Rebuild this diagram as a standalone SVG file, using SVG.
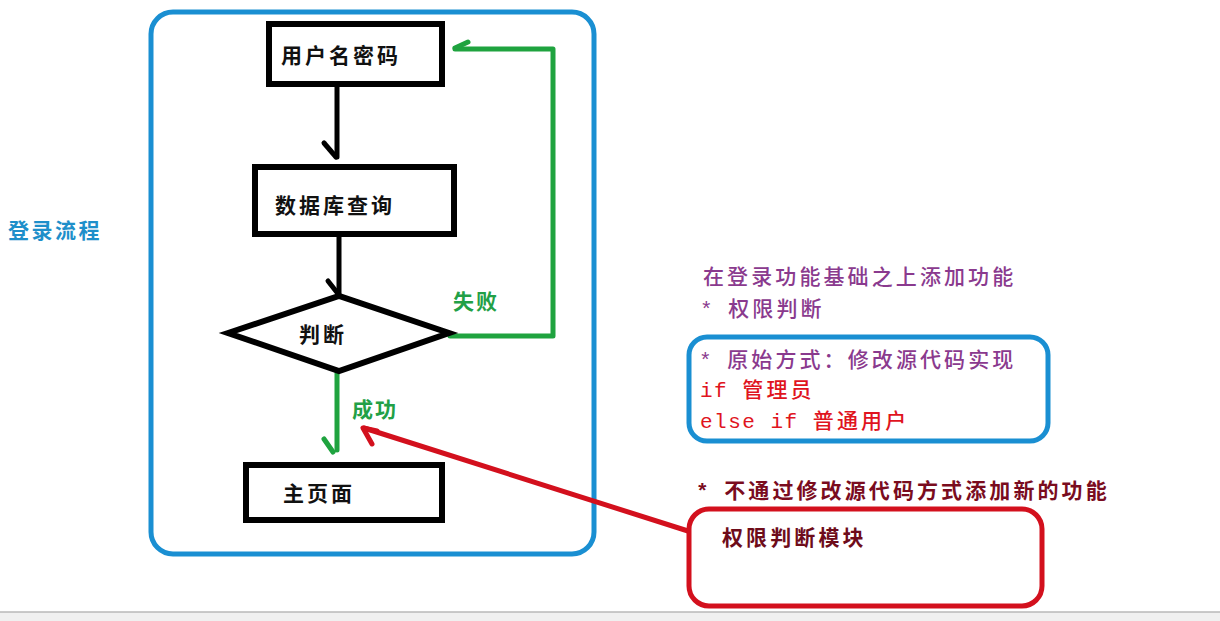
<svg xmlns="http://www.w3.org/2000/svg" width="1220" height="621" viewBox="0 0 1220 621">
<style>
.box{fill:#fff;stroke:#000;stroke-width:6}
.lbl{font-family:"Noto Sans CJK SC",sans-serif;font-size:21px;font-weight:bold;fill:#111;letter-spacing:3px}
.g{font-family:"Noto Sans CJK SC",sans-serif;font-size:21px;font-weight:bold;fill:#22a046;letter-spacing:2px}
.blk{fill:none;stroke:#000;stroke-width:5;stroke-linecap:round;stroke-linejoin:round}
.grn{fill:none;stroke:#1fa33f;stroke-width:5;stroke-linecap:round;stroke-linejoin:round}
.rt{font-family:"Liberation Mono","Noto Sans CJK SC",monospace;font-size:21px;letter-spacing:1.5px;font-weight:500}
.rt.b{font-weight:bold}
.cjk{letter-spacing:3.1px}
</style>
<rect width="1220" height="621" fill="#fff"/>
<rect x="0" y="612" width="1220" height="9" fill="#f0f0f0"/>
<line x1="0" y1="612" x2="1220" y2="612" stroke="#b8b8b8" stroke-width="1.5"/>

<g id="title">
<text x="8" y="238" font-family="Noto Sans CJK SC,sans-serif" font-size="21" font-weight="bold" fill="#1e8fca" letter-spacing="2.5">登录流程</text>
</g>

<g id="container">
<rect x="151" y="12" width="443" height="542" rx="22" fill="none" stroke="#1a8fd2" stroke-width="5"/>
</g>

<g id="connectors">
<polyline class="blk" points="337,86 337,157"/>
<polyline class="blk" points="324,143 336,157"/>
<polyline class="blk" points="339,235 339,295"/>
<polyline class="blk" points="328,281 339,295"/>
<polyline class="grn" points="450,336 553,336 553,49 455,49"/>
<polyline class="grn" points="468,42 455,48"/>
<polyline class="grn" points="337,373 337,450"/>
<polyline class="grn" points="324,439 333,452"/>
<polyline fill="none" stroke="#d3101d" stroke-width="5" stroke-linecap="round" stroke-linejoin="round" points="688,531 364,428"/>
<polyline fill="none" stroke="#d3101d" stroke-width="5" stroke-linecap="round" stroke-linejoin="round" points="372,444 363,428 377,431"/>
<text class="g" x="453" y="309">失败</text>
<text class="g" x="352" y="417">成功</text>
</g>

<g id="n1">
<rect class="box" x="269" y="24" width="173" height="60"/>
<text class="lbl" x="281" y="63">用户名密码</text>
</g>
<g id="n2">
<rect class="box" x="255" y="167" width="199" height="67"/>
<text class="lbl" x="275" y="213">数据库查询</text>
</g>
<g id="n3">
<polygon points="228,333 339,296 449,333 339,371" fill="#fff" stroke="#000" stroke-width="6" stroke-linejoin="miter"/>
<text class="lbl" x="299" y="342">判断</text>
</g>
<g id="n4">
<rect class="box" x="246" y="465" width="196" height="55"/>
<text class="lbl" x="283" y="501">主页面</text>
</g>

<g id="notes">
<text class="rt" x="703" y="284" fill="#8a3a8e"><tspan class="cjk">在登录功能基础之上添加功能</tspan></text>
<text class="rt" x="700" y="316" fill="#8a3a8e">* <tspan class="cjk">权限判断</tspan></text>
</g>

<g id="original">
<rect x="689" y="337" width="359" height="104" rx="18" fill="none" stroke="#1a8fd2" stroke-width="5"/>
<text class="rt" x="699" y="367" fill="#8a3a8e">* <tspan class="cjk">原始方式：修改源代码实现</tspan></text>
<text class="rt" x="700" y="397" fill="#e0141e">if <tspan class="cjk">管理员</tspan></text>
<text class="rt" x="700" y="428" fill="#e0141e">else if <tspan class="cjk">普通用户</tspan></text>
</g>

<g id="newmodule">
<text class="rt b" x="696" y="498" fill="#7a0c1e">* <tspan class="cjk">不通过修改源代码方式添加新的功能</tspan></text>
<rect x="689" y="509" width="353" height="97" rx="20" fill="none" stroke="#d3101d" stroke-width="5"/>
<text class="rt b" x="722" y="545" fill="#6e0c1a"><tspan class="cjk">权限判断模块</tspan></text>
</g>
</svg>
